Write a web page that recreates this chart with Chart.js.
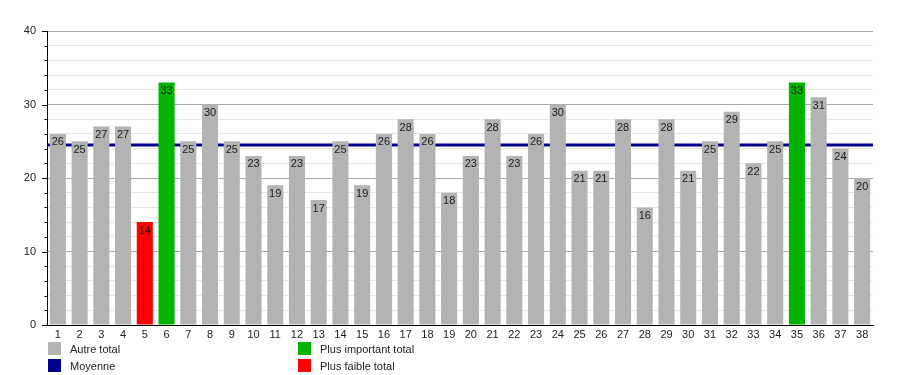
<!DOCTYPE html>
<html lang="fr">
<head>
<meta charset="UTF-8">
<title>Totaux</title>
<script src="https://cdn.jsdelivr.net/npm/chart.js@4"></script>
<style>
    body { margin: 0; background: #fff; font-family: "Liberation Sans", Arial, sans-serif; }
    .wrap { position: relative; width: 900px; height: 375px; }
    canvas { position: absolute; left: 0; top: 0; }
    .item { position: absolute; display: flex; align-items: center; white-space: nowrap; font-size: 11px; color: #222; }
    .sw { width: 13px; height: 13px; margin-right: 9px; }
</style>
</head>
<body>
<div class="wrap">
    <canvas id="chart" width="900" height="375"></canvas>
    <div class="item" style="left:48px;top:342px"><span class="sw" style="background:#b3b3b3"></span>Autre total</div>
    <div class="item" style="left:48px;top:359px"><span class="sw" style="background:#00008c"></span>Moyenne</div>
    <div class="item" style="left:298px;top:342px"><span class="sw" style="background:#00b400"></span>Plus important total</div>
    <div class="item" style="left:298px;top:359px"><span class="sw" style="background:#ff0000"></span>Plus faible total</div>
</div>
<script>
    const categories = ['1','2','3','4','5','6','7','8','9','10','11','12','13','14','15','16','17','18','19',
        '20','21','22','23','24','25','26','27','28','29','30','31','32','33','34','35','36','37','38'];
    const totals = [26, 25, 27, 27, 14, 33, 25, 30, 25, 23, 19, 23, 17, 25, 19, 26, 28, 26, 18,
        23, 28, 23, 26, 30, 21, 21, 28, 16, 28, 21, 25, 29, 22, 25, 33, 31, 24, 20];
    const yTicks = [0, 10, 20, 30, 40];

    const maxTotal = Math.max(...totals);
    const minTotal = Math.min(...totals);
    const average = totals.reduce((a, b) => a + b, 0) / totals.length;

    const colors = totals.map(v => v === maxTotal ? '#00b400' : (v === minTotal ? '#ff0000' : '#b3b3b3'));

    // average line, drawn under the bars
    const averageLine = {
        id: 'averageLine',
        beforeDatasetsDraw(chart) {
            const { ctx, chartArea, scales } = chart;
            const y = scales.y.getPixelForValue(average);
            ctx.save();
            ctx.strokeStyle = '#00008c';
            ctx.lineWidth = 3;
            ctx.beginPath();
            ctx.moveTo(chartArea.left, y);
            ctx.lineTo(chartArea.right, y);
            ctx.stroke();
            ctx.restore();
        }
    };

    // value labels at the top of each bar + y axis tick marks
    const barLabels = {
        id: 'barLabels',
        afterDatasetsDraw(chart) {
            const { ctx, scales } = chart;
            const meta = chart.getDatasetMeta(0);
            ctx.save();
            ctx.font = '11px "Liberation Sans", Arial, sans-serif';
            ctx.fillStyle = '#1a1a1a';
            ctx.textAlign = 'center';
            ctx.textBaseline = 'middle';
            meta.data.forEach((bar, i) => {
                ctx.fillText(totals[i], bar.x, bar.y + 8.5);
            });
            const left = chart.chartArea.left;
            ctx.strokeStyle = '#000';
            ctx.lineWidth = 1;
            for (let v = 0; v <= 40; v += 2) {
                const y = Math.round(scales.y.getPixelForValue(v)) + 0.5;
                const len = yTicks.includes(v) ? 5 : 2.5;
                ctx.beginPath();
                ctx.moveTo(left - len, y);
                ctx.lineTo(left, y);
                ctx.stroke();
            }
            ctx.restore();
        }
    };

    new Chart(document.getElementById('chart'), {
        type: 'bar',
        data: {
            labels: categories,
            datasets: [{
                data: totals,
                backgroundColor: colors,
                borderWidth: 0,
                barPercentage: 0.74,
                categoryPercentage: 1
            }]
        },
        options: {
            responsive: false,
            animation: false,
            layout: { padding: { top: 31, right: 27, bottom: 0, left: 0 } },
            plugins: { legend: { display: false }, tooltip: { enabled: false } },
            scales: {
                x: {
                    grid: { display: false, drawTicks: false },
                    border: { color: '#000', width: 1 },
                    ticks: {
                        font: { size: 11, family: '"Liberation Sans", Arial, sans-serif' },
                        color: '#222', padding: 3, maxRotation: 0, autoSkip: false
                    },
                    afterFit(s) { s.height = 50; }
                },
                y: {
                    min: 0,
                    max: 40,
                    ticks: {
                        stepSize: 2,
                        autoSkip: false,
                        font: { size: 11, family: '"Liberation Sans", Arial, sans-serif' },
                        color: '#222',
                        padding: 11,
                        callback: v => yTicks.includes(v) ? v : ''
                    },
                    grid: {
                        drawTicks: false,
                        color: c => yTicks.includes(c.tick.value) ? '#a8a8a8' : '#e6e6e6'
                    },
                    border: { color: '#000', width: 1 },
                    afterFit(s) { s.width = 47; }
                }
            }
        },
        plugins: [averageLine, barLabels]
    });
</script>
</body>
</html>
